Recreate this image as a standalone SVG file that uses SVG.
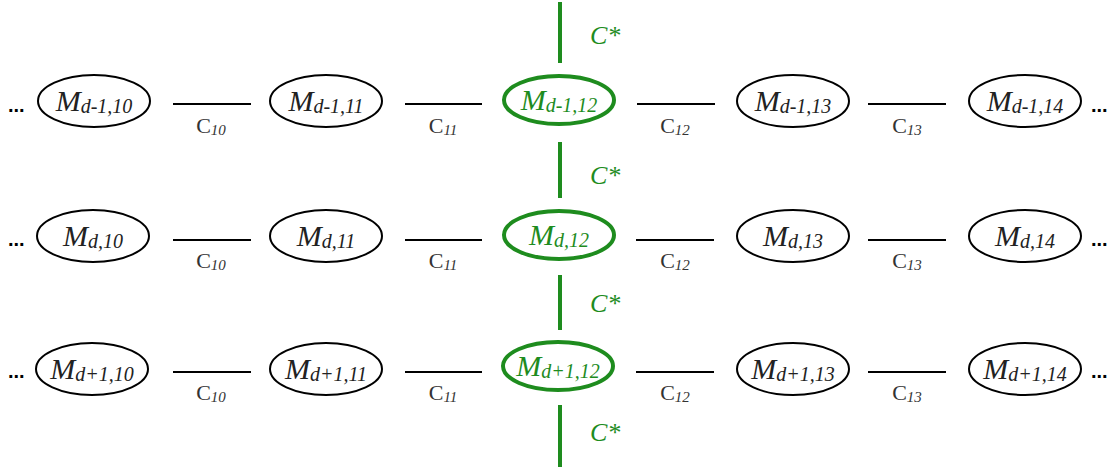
<svg xmlns="http://www.w3.org/2000/svg" width="1118" height="470" viewBox="0 0 1118 470">
<style>
.n{fill:#fff;stroke:#000;stroke-width:2}
.g{fill:#fff;stroke:#1e8c1e;stroke-width:4}
.m{font-family:"Liberation Serif",serif;font-style:italic;font-size:30px;fill:#222;text-anchor:middle}
.mg{fill:#1e8c1e}
.s{font-size:20px}
.c{font-family:"Liberation Serif",serif;font-size:22px;fill:#333;text-anchor:middle}
.cs{font-style:italic;font-size:15px}
.cg{font-family:"Liberation Serif",serif;font-style:italic;font-size:26px;fill:#1e8c1e}
.e{stroke:#000;stroke-width:2}
.v{stroke:#1e8c1e;stroke-width:4}
.d{font-family:"Liberation Sans",sans-serif;font-weight:bold;font-size:20px;fill:#000}
</style>
<g id="connectors">
<line class="e" x1="173" y1="104" x2="251" y2="104"/><line class="e" x1="405" y1="104" x2="482" y2="104"/><line class="e" x1="637" y1="104" x2="715" y2="104"/><line class="e" x1="868" y1="104" x2="946" y2="104"/>
<line class="e" x1="173" y1="240" x2="251" y2="240"/><line class="e" x1="405" y1="240" x2="482" y2="240"/><line class="e" x1="636" y1="240" x2="714" y2="240"/><line class="e" x1="868" y1="240" x2="946" y2="240"/>
<line class="e" x1="173" y1="372" x2="251" y2="372"/><line class="e" x1="405" y1="372" x2="482" y2="372"/><line class="e" x1="636" y1="372" x2="714" y2="372"/><line class="e" x1="868" y1="372" x2="946" y2="372"/>
<line class="v" x1="560" y1="2" x2="560" y2="63"/><line class="v" x1="560" y1="142" x2="560" y2="198"/><line class="v" x1="560" y1="275" x2="560" y2="330"/><line class="v" x1="560" y1="405" x2="560" y2="467"/>
<g class="c">
<text x="211" y="133">C<tspan class="cs" dy="2">10</tspan></text><text x="443" y="133">C<tspan class="cs" dy="2">11</tspan></text><text x="675" y="133">C<tspan class="cs" dy="2">12</tspan></text><text x="907" y="133">C<tspan class="cs" dy="2">13</tspan></text>
<text x="211" y="268">C<tspan class="cs" dy="2">10</tspan></text><text x="443" y="268">C<tspan class="cs" dy="2">11</tspan></text><text x="675" y="268">C<tspan class="cs" dy="2">12</tspan></text><text x="907" y="268">C<tspan class="cs" dy="2">13</tspan></text>
<text x="211" y="400">C<tspan class="cs" dy="2">10</tspan></text><text x="443" y="400">C<tspan class="cs" dy="2">11</tspan></text><text x="675" y="400">C<tspan class="cs" dy="2">12</tspan></text><text x="907" y="400">C<tspan class="cs" dy="2">13</tspan></text>
</g>
<text class="cg" x="590" y="44">C*</text><text class="cg" x="590" y="184">C*</text><text class="cg" x="590" y="312">C*</text><text class="cg" x="590" y="441">C*</text>
</g>
<g id="dots">
<text class="d" x="8" y="112">...</text><text class="d" x="8" y="246">...</text><text class="d" x="8" y="378">...</text>
<text class="d" x="1091" y="112">...</text><text class="d" x="1091" y="246">...</text><text class="d" x="1091" y="378">...</text>
</g>
<g id="n-d-1-10"><ellipse class="n" cx="94" cy="101" rx="56" ry="26"/><text class="m" x="94" y="111">M<tspan class="s" dy="2">d-1,10</tspan></text></g>
<g id="n-d-1-11"><ellipse class="n" cx="326" cy="101" rx="56" ry="26"/><text class="m" x="326" y="111">M<tspan class="s" dy="2">d-1,11</tspan></text></g>
<g id="n-d-1-12"><ellipse class="g" cx="559" cy="100" rx="55" ry="24"/><text class="m mg" x="559" y="110">M<tspan class="s" dy="2">d-1,12</tspan></text></g>
<g id="n-d-1-13"><ellipse class="n" cx="793" cy="101" rx="56" ry="26"/><text class="m" x="793" y="111">M<tspan class="s" dy="2">d-1,13</tspan></text></g>
<g id="n-d-1-14"><ellipse class="n" cx="1025" cy="101" rx="56" ry="26"/><text class="m" x="1025" y="111">M<tspan class="s" dy="2">d-1,14</tspan></text></g>
<g id="n-d-10"><ellipse class="n" cx="93" cy="236" rx="56" ry="26"/><text class="m" x="93" y="246">M<tspan class="s" dy="2">d,10</tspan></text></g>
<g id="n-d-11"><ellipse class="n" cx="326" cy="236" rx="56" ry="26"/><text class="m" x="326" y="246">M<tspan class="s" dy="2">d,11</tspan></text></g>
<g id="n-d-12"><ellipse class="g" cx="559" cy="235" rx="55" ry="24"/><text class="m mg" x="559" y="245">M<tspan class="s" dy="2">d,12</tspan></text></g>
<g id="n-d-13"><ellipse class="n" cx="793" cy="236" rx="56" ry="26"/><text class="m" x="793" y="246">M<tspan class="s" dy="2">d,13</tspan></text></g>
<g id="n-d-14"><ellipse class="n" cx="1025" cy="236" rx="56" ry="26"/><text class="m" x="1025" y="246">M<tspan class="s" dy="2">d,14</tspan></text></g>
<g id="n-d+1-10"><ellipse class="n" cx="92" cy="369" rx="56" ry="26"/><text class="m" x="92" y="379">M<tspan class="s" dy="2">d+1,10</tspan></text></g>
<g id="n-d+1-11"><ellipse class="n" cx="326" cy="369" rx="56" ry="26"/><text class="m" x="326" y="379">M<tspan class="s" dy="2">d+1,11</tspan></text></g>
<g id="n-d+1-12"><ellipse class="g" cx="558" cy="366" rx="55" ry="24"/><text class="m mg" x="558" y="376">M<tspan class="s" dy="2">d+1,12</tspan></text></g>
<g id="n-d+1-13"><ellipse class="n" cx="793" cy="369" rx="56" ry="26"/><text class="m" x="793" y="379">M<tspan class="s" dy="2">d+1,13</tspan></text></g>
<g id="n-d+1-14"><ellipse class="n" cx="1025" cy="369" rx="56" ry="26"/><text class="m" x="1025" y="379">M<tspan class="s" dy="2">d+1,14</tspan></text></g>
</svg>
